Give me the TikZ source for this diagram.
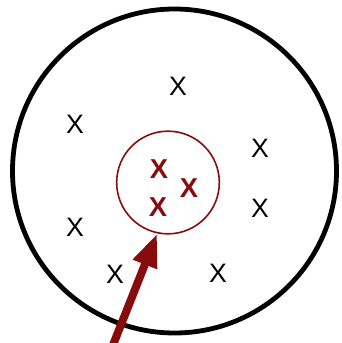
\documentclass[tikz,border=0pt]{standalone}
\usepackage{fontspec}
\setmainfont{Liberation Sans}
\usetikzlibrary{arrows.meta}
\definecolor{darkred}{RGB}{135,12,12}

\begin{document}
\begin{tikzpicture}[x=0.75pt, y=-0.75pt, font=\fontsize{20}{24}\selectfont,
		ring/.style={circle, draw, inner sep=0pt},
		cross/.style={inner sep=0pt},
		redcross/.style={inner sep=0pt, text=darkred, font=\fontsize{20.5}{24}\selectfont\bfseries}]
		\useasboundingbox (0,0) rectangle (342,343);
		% outer and inner circles
		\node[ring, line width=3.6pt, minimum size=243pt] (outer) at (174.5,171) {};
		\node[ring, draw=darkred, line width=1.2pt, minimum size=77pt] (inner) at (168,182.5) {};
		% points outside the cluster
		\node[cross] (p1) at (178,86) {X};
		\node[cross] (p2) at (75,124) {X};
		\node[cross] (p3) at (260,148) {X};
		\node[cross] (p4) at (260,208) {X};
		\node[cross] (p5) at (75,227) {X};
		\node[cross] (p6) at (115,274) {X};
		\node[cross] (p7) at (218,273) {X};
		% points in the cluster
		\node[redcross] (q1) at (159,169) {X};
		\node[redcross] (q2) at (189,188) {X};
		\node[redcross] (q3) at (158,207) {X};
		% pointer
		\coordinate (tail) at (111,350);
		\draw[-{Triangle[width=18pt, length=25pt]}, darkred, line width=6pt] (tail) -- (inner.-102);
	\end{tikzpicture}
\end{document}
